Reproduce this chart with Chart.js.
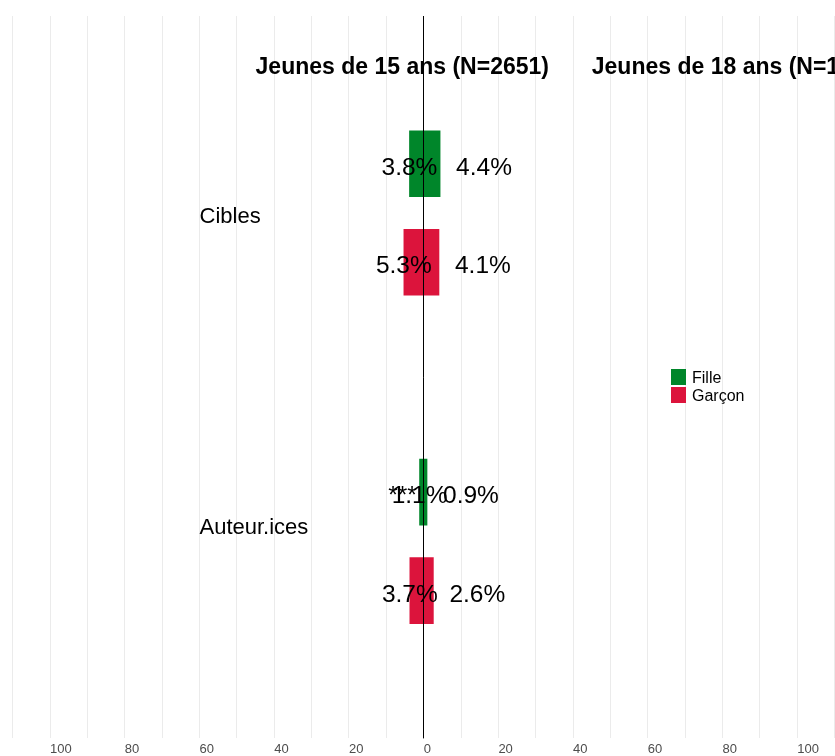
<!DOCTYPE html>
<html>
<head>
<meta charset="utf-8">
<script src="https://cdn.jsdelivr.net/npm/chart.js@4/dist/chart.umd.min.js"></script>
<style>
  body { margin: 0; background: #fff; overflow: hidden; }
</style>
</head>
<body>
<canvas id="chart" width="835" height="756"></canvas>
<script>
// values in %, left side = 15 ans, right side = 18 ans
var categories = ['Cibles', 'Auteur.ices'];
var sexes = ['Fille', 'Garçon'];
var fille15 = [3.8, 1.1];
var fille18 = [4.4, 0.9];
var garcon15 = [5.3, 3.7];
var garcon18 = [4.1, 2.6];
var fille15Sig = ['', '***'];
var garcon15Sig = ['', ''];
var panelTitles = ['Jeunes de 15 ans (N=2651)', 'Jeunes de 18 ans (N=1508)'];
var xTicks = [-110, -100, -90, -80, -70, -60, -50, -40, -30, -20, -10, 0, 10, 20, 30, 40, 50, 60, 70, 80, 90, 100, 110];

var colors = ['#00862a', '#dc143c'];

function bars(left, right, dodge) {
  return categories.map(function(c, i) {
    return { y: i + 1 + dodge, x: [-left[i], right[i]] };
  });
}

var series = [
  { left: fille15, right: fille18, sig: fille15Sig },
  { left: garcon15, right: garcon18, sig: garcon15Sig }
];

var overlay = {
  id: 'overlay',
  afterDatasetsDraw: function(chart) {
    var ctx = chart.ctx;
    var area = chart.chartArea;
    var x0 = Math.floor(chart.scales.x.getPixelForValue(0)) + 0.5;
    ctx.save();
    ctx.strokeStyle = '#000';
    ctx.lineWidth = 1;
    ctx.beginPath();
    ctx.moveTo(x0, area.top);
    ctx.lineTo(x0, area.bottom);
    ctx.stroke();
    ctx.restore();
  },
  afterDraw: function(chart) {
    var ctx = chart.ctx;
    var xs = chart.scales.x, ys = chart.scales.y;
    ctx.save();
    ctx.fillStyle = '#000';
    ctx.textBaseline = 'alphabetic';

    // value labels
    ctx.font = '24.5px Arial';
    series.forEach(function(s, di) {
      chart.getDatasetMeta(di).data.forEach(function(bar, i) {
        var xl = xs.getPixelForValue(-s.left[i]);
        var xr = xs.getPixelForValue(s.right[i]);
        var by = bar.y + 11;
        ctx.textAlign = 'center';
        ctx.fillText(s.left[i].toFixed(1) + '%', xl, by);
        if (s.sig[i]) ctx.fillText(s.sig[i], xl - 17, by);
        ctx.textAlign = 'left';
        ctx.fillText(s.right[i].toFixed(1) + '%', xr + 16, by);
      });
    });

    // category labels
    ctx.font = '22px Arial';
    ctx.textAlign = 'left';
    var catY = [1.006, 1.954];
    categories.forEach(function(c, i) {
      ctx.fillText(c, xs.getPixelForValue(-60), ys.getPixelForValue(catY[i]) + 8);
    });

    // panel titles
    ctx.font = 'bold 23px Arial';
    ctx.fillText(panelTitles[0], xs.getPixelForValue(-45), ys.getPixelForValue(0.555) + 7.5);
    ctx.fillText(panelTitles[1], xs.getPixelForValue(45), ys.getPixelForValue(0.555) + 7.5);

    // legend
    ctx.font = '16px Arial';
    var lx = Math.round(xs.getPixelForValue(66.2));
    var ly = Math.round(ys.getPixelForValue(1.526)) - 17;
    sexes.forEach(function(s, i) {
      ctx.fillStyle = colors[i];
      ctx.fillRect(lx, ly + i * 18, 15, 16);
      ctx.fillStyle = '#000';
      ctx.fillText(s, lx + 21, ly + i * 18 + 14);
    });
    ctx.restore();
  }
};

new Chart(document.getElementById('chart'), {
  type: 'bar',
  data: {
    datasets: sexes.map(function(s, i) {
      return {
        label: s,
        data: bars(series[i].left, series[i].right, i === 0 ? -0.15 : 0.15),
        backgroundColor: colors[i],
        borderWidth: 0,
        grouped: false,
        barThickness: 66
      };
    })
  },
  options: {
    indexAxis: 'y',
    responsive: false,
    animation: false,
    devicePixelRatio: 1,
    layout: { padding: { top: 16, left: 0, right: 0, bottom: -4 } },
    plugins: {
      legend: { display: false },
      tooltip: { enabled: false }
    },
    scales: {
      x: {
        type: 'linear',
        min: -113.4,
        max: 110.1,
        afterBuildTicks: function(axis) {
          axis.ticks = xTicks.map(function(v) { return { value: v }; });
        },
        afterFit: function(axis) {
          axis.paddingLeft = 0;
          axis.paddingRight = 0;
        },
        grid: { color: '#ebebeb', drawTicks: false },
        border: { display: false },
        ticks: {
          autoSkip: false,
          maxRotation: 0,
          align: 'start',
          padding: 3,
          color: '#4d4d4d',
          font: { family: 'Arial', size: 13 },
          callback: function(v) { return v % 20 === 0 ? Math.abs(v) : ''; }
        }
      },
      y: {
        type: 'linear',
        min: 0.4,
        max: 2.6,
        reverse: true,
        offset: false,
        display: false
      }
    }
  },
  plugins: [overlay]
});
</script>
</body>
</html>
